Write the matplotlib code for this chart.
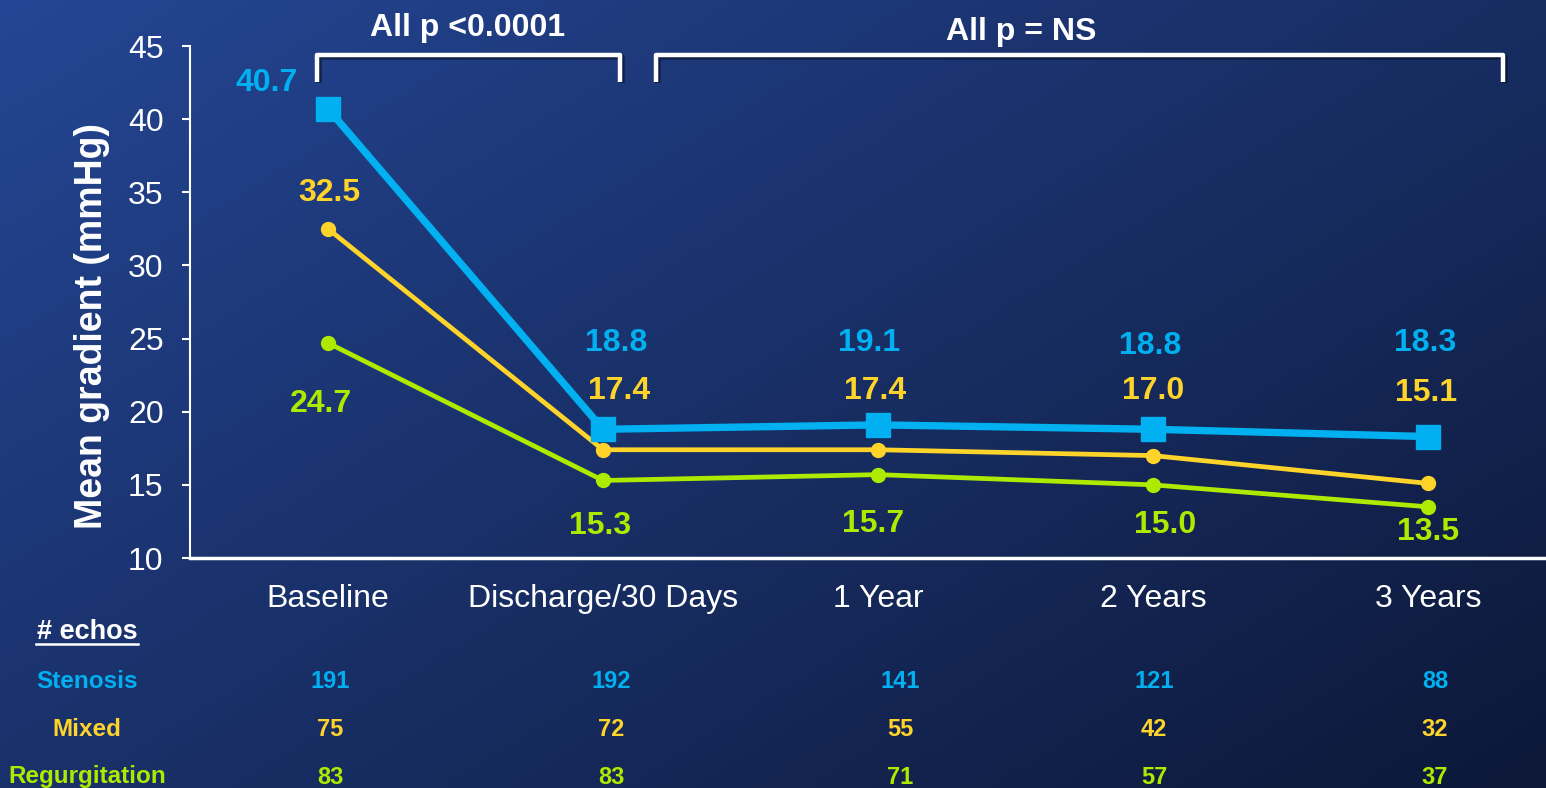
import numpy as np
import matplotlib
matplotlib.use("Agg")
import matplotlib.pyplot as plt

plt.rcParams['font.family'] = ['Liberation Sans', 'DejaVu Sans']

# data
timepoints = ["Baseline", "Discharge/30 Days", "1 Year", "2 Years", "3 Years"]
stenosis = [40.7, 18.8, 19.1, 18.8, 18.3]
mixed = [32.5, 17.4, 17.4, 17.0, 15.1]
regurg = [24.7, 15.3, 15.7, 15.0, 13.5]
echo_groups = ["Stenosis", "Mixed", "Regurgitation"]
echos_stenosis = [191, 192, 141, 121, 88]
echos_mixed = [75, 72, 55, 42, 32]
echos_regurg = [83, 83, 71, 57, 37]

BLUE = "#00b0f0"
YELLOW = "#ffd42a"
GREEN = "#aeea00"

W, H = 1546, 788
fig = plt.figure(figsize=(W / 100, H / 100), dpi=100)

# background gradient (top-left lighter blue to bottom-right navy)
bg = fig.add_axes([0, 0, 1, 1], zorder=-10)
gx, gy = np.meshgrid(np.linspace(0, 1, 300), np.linspace(0, 1, 150))
t = np.clip((gx * 0.55 + gy * 0.45), 0, 1)
c0 = np.array([36, 70, 148]) / 255
c1 = np.array([13, 24, 56]) / 255
img = c0[None, None, :] * (1 - t[..., None]) + c1[None, None, :] * t[..., None]
bg.imshow(img, aspect='auto', extent=[0, 1, 0, 1], origin='upper')
bg.axis('off')

ax = fig.add_axes([190 / W, (H - 558) / H, 1 - 190 / W, (558 - 46) / H])
ax.patch.set_alpha(0)
x = np.arange(len(timepoints))

ax.plot(x, regurg, color=GREEN, lw=3.4, marker='o', ms=10, zorder=3)
ax.plot(x, mixed, color=YELLOW, lw=3.4, marker='o', ms=10, zorder=4)
ax.plot(x, stenosis, color=BLUE, lw=5.3, marker='s', ms=17, zorder=5)

# label offsets in pixels (layout only)
off_s = [(-61, 26), (13, 86), (-9, 82), (-3, 83), (-3, 94)]
off_m = [(1, 36), (16, 59), (-3, 59), (0, 65), (-2, 90)]
off_r = [(-7, -61), (-3, -46), (-5, -49), (12, -40), (0, -25)]
for vals, offs, col in [(stenosis, off_s, BLUE), (mixed, off_m, YELLOW), (regurg, off_r, GREEN)]:
    for i, v in enumerate(vals):
        ax.annotate(f"{v:.1f}", (x[i], v), xytext=offs[i], textcoords='offset pixels',
                    ha='center', va='center', color=col, fontsize=23, fontweight='bold')

ax.set_xlim(-0.502, (W - 328) / 275)
ax.set_ylim(10, 45)
ax.set_yticks(range(10, 46, 5))
ax.set_xticks(x)
ax.set_xticklabels(timepoints)
ax.tick_params(axis='x', length=0, pad=19, labelsize=23, labelcolor='white')
ax.tick_params(axis='y', length=6, width=1.5, color='white', direction='out', pad=13,
               labelsize=23, labelcolor='white')
for s in ['top', 'right']:
    ax.spines[s].set_visible(False)
ax.spines['left'].set_color('white')
ax.spines['left'].set_linewidth(1.5)
ax.spines['bottom'].set_color('white')
ax.spines['bottom'].set_linewidth(2.5)
ax.set_ylabel("Mean gradient (mmHg)", color='white', fontsize=27, fontweight='bold')
ax.yaxis.set_label_coords(-0.059, 0.453)


def bracket(x0, x1, y_top, y_bot):
    for dx, dy, c, lw, z in [(1.5, -1.5, '#0a1128', 4, 6), (0, 0, 'white', 3.2, 7)]:
        ax.plot([x0 + dx / 275, x0 + dx / 275, x1 + dx / 275, x1 + dx / 275],
                [y_bot + dy / 14.63, y_top + dy / 14.63, y_top + dy / 14.63, y_bot + dy / 14.63],
                color=c, lw=lw, solid_joinstyle='round', solid_capstyle='butt',
                clip_on=False, zorder=z, alpha=0.6 if c != 'white' else 1)


bracket(-0.04, 1.062, 44.38, 42.54)
bracket(1.193, 4.273, 44.38, 42.54)
fig.text(468 / W, 1 - 28 / H, "All p <0.0001", color='white', fontsize=23,
         fontweight='bold', ha='center', va='center')
fig.text(1021 / W, 1 - 32 / H, "All p = NS", color='white', fontsize=23,
         fontweight='bold', ha='center', va='center')

# echo counts table
fig.text(87 / W, 1 - 632 / H, "# echos", color='white', fontsize=19.5, fontweight='bold',
         ha='center', va='center')
fig.add_artist(plt.Line2D([36 / W, 138 / W], [1 - 644 / H, 1 - 644 / H], color='white', lw=1.8))
col_x = [330, 611, 900, 1154, 1435]
row_y = [682, 729, 777]
for name, counts, col, ry in zip(echo_groups, [echos_stenosis, echos_mixed, echos_regurg],
                                 [BLUE, YELLOW, GREEN], row_y):
    fig.text(87 / W, 1 - ry / H, name, color=col, fontsize=17.5, fontweight='bold',
             ha='center', va='center')
    for cx, n in zip(col_x, counts):
        fig.text(cx / W, 1 - ry / H, str(n), color=col, fontsize=17, fontweight='bold',
                 ha='center', va='center')

fig.savefig("out.png", dpi=100)
